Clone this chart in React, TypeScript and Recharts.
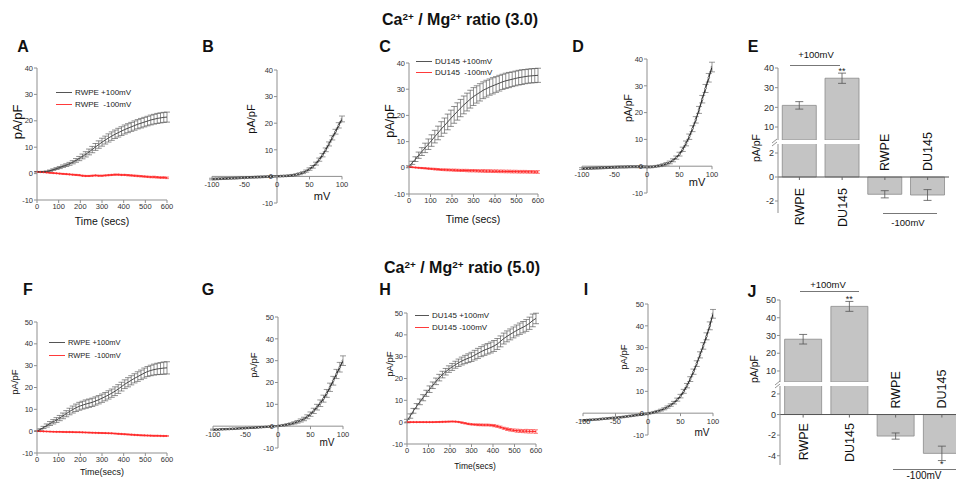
import React from "react";
import {
  Bar,
  BarChart,
  ErrorBar,
  Line,
  LineChart,
  ReferenceDot,
  ReferenceLine,
  XAxis,
  YAxis,
} from "recharts";

const FONT = "Arial, 'Liberation Sans', Helvetica, sans-serif";
const AXIS = "#8f8f8f";
const TICK = "#333";
const RED = "#ff2b2b";
const BAR = "#c4c4c4";
const BAR_EDGE = "#8a8a8a";

// time courses, sampled every 15 s
const times = [
  0, 15, 30, 45, 60, 75, 90, 105, 120, 135, 150, 165, 180, 195, 210, 225, 240, 255, 270, 285, 300,
  315, 330, 345, 360, 375, 390, 405, 420, 435, 450, 465, 480, 495, 510, 525, 540, 555, 570, 585, 600,
];
const timeTicks = [0, 100, 200, 300, 400, 500, 600];

// A: RWPE, ratio 3.0
const aUp = [
  0.7, 0.7, 0.7, 0.8, 1.1, 1.5, 1.9, 2.3, 2.8, 3.2, 3.7, 4.3, 5.0, 5.7, 6.5, 7.3, 8.2, 9.1, 10.1,
  11.0, 11.9, 12.7, 13.5, 14.2, 14.9, 15.5, 16.1, 16.7, 17.2, 17.7, 18.2, 18.7, 19.1, 19.5, 19.9,
  20.3, 20.6, 20.9, 21.1, 21.3, 21.4,
];
const aUpErr = [
  0.1, 0.1, 0.15, 0.2, 0.25, 0.3, 0.35, 0.4, 0.45, 0.5, 0.55, 0.6, 0.7, 0.8, 0.9, 1.0, 1.1, 1.2,
  1.3, 1.4, 1.5, 1.5, 1.55, 1.6, 1.6, 1.65, 1.65, 1.7, 1.7, 1.7, 1.75, 1.75, 1.8, 1.8, 1.8, 1.85,
  1.85, 1.9, 1.9, 1.9, 1.9,
];
const aDown = [
  0.7, 0.6, 0.5, 0.4, 0.3, 0.2, 0.1, 0.0, -0.1, -0.2, -0.3, -0.4, -0.5, -0.6, -0.8, -0.9, -0.9,
  -0.8, -0.7, -0.8, -0.8, -0.7, -0.6, -0.5, -0.4, -0.4, -0.5, -0.5, -0.6, -0.7, -0.8, -0.9, -1.0,
  -1.1, -1.2, -1.3, -1.3, -1.4, -1.5, -1.5, -1.6,
];
const aDownErr = [
  0.1, 0.1, 0.1, 0.1, 0.1, 0.1, 0.1, 0.15, 0.15, 0.15, 0.15, 0.15, 0.2, 0.2, 0.2, 0.2, 0.2, 0.2,
  0.2, 0.2, 0.2, 0.2, 0.2, 0.2, 0.2, 0.2, 0.2, 0.2, 0.25, 0.25, 0.25, 0.25, 0.25, 0.25, 0.25, 0.25,
  0.3, 0.3, 0.3, 0.3, 0.3,
];

// C: DU145, ratio 3.0
const cUp = [
  0.5, 1.9, 3.3, 4.8, 6.2, 7.6, 9.0, 10.4, 11.9, 13.3, 14.8, 16.1, 17.5, 18.9, 20.2, 21.5, 22.8,
  24.0, 25.1, 26.2, 27.2, 28.0, 28.8, 29.6, 30.2, 30.8, 31.3, 31.8, 32.3, 32.8, 33.2, 33.5, 33.8,
  34.1, 34.4, 34.6, 34.8, 35.0, 35.1, 35.2, 35.3,
];
const cUpErr = [
  0.3, 0.6, 0.9, 1.2, 1.5, 1.8, 2.0, 2.2, 2.4, 2.6, 2.8, 2.9, 3.0, 3.1, 3.2, 3.3, 3.3, 3.4, 3.4,
  3.4, 3.4, 3.3, 3.3, 3.2, 3.2, 3.1, 3.1, 3.0, 3.0, 2.9, 2.9, 2.9, 2.8, 2.8, 2.8, 2.8, 2.7, 2.7,
  2.7, 2.7, 2.7,
];
const cDown = [
  0.3, 0.2, 0.1, 0.0, -0.1, -0.2, -0.3, -0.4, -0.5, -0.6, -0.7, -0.75, -0.8, -0.85, -0.9, -0.95,
  -1.0, -1.0, -1.05, -1.1, -1.1, -1.15, -1.2, -1.2, -1.25, -1.25, -1.3, -1.3, -1.35, -1.35, -1.4,
  -1.4, -1.45, -1.45, -1.5, -1.5, -1.5, -1.55, -1.55, -1.6, -1.6,
];
const cDownErr = [
  0.1, 0.1, 0.15, 0.15, 0.2, 0.2, 0.25, 0.25, 0.3, 0.3, 0.3, 0.35, 0.35, 0.35, 0.4, 0.4, 0.4, 0.4,
  0.45, 0.45, 0.45, 0.45, 0.45, 0.5, 0.5, 0.5, 0.5, 0.5, 0.5, 0.5, 0.5, 0.5, 0.5, 0.5, 0.5, 0.5,
  0.5, 0.5, 0.5, 0.5, 0.5,
];

// F: RWPE, ratio 5.0
const fUp = [
  0.0, 0.8, 1.7, 2.6, 3.5, 4.3, 5.1, 6.0, 7.0, 8.0, 9.0, 9.9, 10.7, 11.4, 11.9, 12.4, 12.8, 13.2,
  13.8, 14.4, 15.1, 15.8, 16.6, 17.4, 18.3, 19.3, 20.4, 21.5, 22.4, 23.3, 24.2, 25.0, 25.8, 26.6,
  27.3, 27.8, 28.2, 28.5, 28.7, 28.9, 29.0,
];
const fUpErr = [
  0.1, 0.3, 0.5, 0.7, 0.9, 1.0, 1.1, 1.2, 1.3, 1.4, 1.5, 1.6, 1.7, 1.8, 1.8, 1.9, 1.9, 1.9, 1.9,
  1.9, 1.9, 1.9, 1.9, 1.9, 2.0, 2.0, 2.0, 2.0, 2.1, 2.1, 2.1, 2.2, 2.2, 2.3, 2.3, 2.4, 2.5, 2.6,
  2.7, 2.8, 2.8,
];
const fDown = [
  0.0, -0.05, -0.1, -0.15, -0.2, -0.25, -0.3, -0.3, -0.35, -0.4, -0.4, -0.45, -0.5, -0.5, -0.55,
  -0.6, -0.65, -0.7, -0.75, -0.8, -0.85, -0.9, -0.95, -1.0, -1.1, -1.2, -1.3, -1.4, -1.5, -1.6,
  -1.7, -1.8, -1.9, -1.95, -2.0, -2.05, -2.1, -2.1, -2.15, -2.2, -2.2,
];
const fDownErr = [
  0.1, 0.1, 0.1, 0.1, 0.1, 0.1, 0.1, 0.1, 0.1, 0.1, 0.15, 0.15, 0.15, 0.15, 0.15, 0.15, 0.15, 0.15,
  0.15, 0.15, 0.15, 0.15, 0.15, 0.15, 0.15, 0.2, 0.2, 0.2, 0.2, 0.2, 0.2, 0.2, 0.2, 0.2, 0.2, 0.2,
  0.2, 0.2, 0.2, 0.2, 0.2,
];

// H: DU145, ratio 5.0
const hUp = [
  0.5, 2.8, 5.2, 7.3, 9.3, 11.2, 13.2, 15.1, 16.9, 18.7, 20.4, 21.8, 23.1, 24.3, 25.3, 26.3, 27.2,
  28.0, 28.7, 29.3, 29.9, 30.7, 31.5, 32.3, 33.0, 33.6, 34.2, 34.9, 35.8, 37.0, 38.3, 39.3, 40.2,
  41.1, 42.0, 42.8, 43.5, 44.3, 45.3, 46.6, 47.5,
];
const hUpErr = [
  0.8, 1.0, 1.1, 1.2, 1.3, 1.4, 1.4, 1.5, 1.5, 1.5, 1.5, 1.5, 1.5, 1.5, 1.6, 1.6, 1.7, 1.8, 1.9,
  2.0, 2.1, 2.2, 2.3, 2.3, 2.4, 2.4, 2.5, 2.5, 2.5, 2.5, 2.5, 2.5, 2.5, 2.5, 2.5, 2.6, 2.6, 2.7,
  2.8, 2.9, 2.4,
];
const hDown = [
  0, 0, 0, 0, 0, 0, 0, 0, 0, 0.05, 0.1, 0.15, 0.2, 0.25, 0.3, 0.25, 0.1, -0.2, -0.5, -0.8, -1.0,
  -1.1, -1.2, -1.25, -1.3, -1.3, -1.4, -1.6, -1.9, -2.3, -2.8, -3.2, -3.5, -3.7, -3.9, -4.0, -4.1,
  -4.1, -4.2, -4.2, -4.3,
];
const hDownErr = [
  0.1, 0.1, 0.1, 0.1, 0.1, 0.1, 0.1, 0.1, 0.1, 0.1, 0.2, 0.2, 0.2, 0.2, 0.2, 0.2, 0.2, 0.3, 0.3,
  0.3, 0.3, 0.3, 0.4, 0.4, 0.4, 0.4, 0.4, 0.5, 0.5, 0.5, 0.5, 0.6, 0.6, 0.6, 0.7, 0.7, 0.7, 0.8,
  0.8, 0.8, 0.8,
];

// I-V curves, every 5 mV
const volts = [
  -100, -95, -90, -85, -80, -75, -70, -65, -60, -55, -50, -45, -40, -35, -30, -25, -20, -15, -10,
  -5, 0, 5, 10, 15, 20, 25, 30, 35, 40, 45, 50, 55, 60, 65, 70, 75, 80, 85, 90, 95, 100,
];
const voltTicks = [-100, -50, 0, 50, 100];

const bIV = [
  -1.0, -0.95, -0.9, -0.85, -0.8, -0.75, -0.7, -0.65, -0.6, -0.5, -0.45, -0.4, -0.35, -0.3, -0.25,
  -0.2, -0.15, -0.1, -0.05, 0.0, 0.05, 0.1, 0.15, 0.2, 0.3, 0.45, 0.7, 1.0, 1.4, 2.0, 2.75, 3.6,
  4.8, 6.3, 8.0, 10.0, 12.2, 14.5, 16.8, 19.2, 21.6,
];
const bErr = [
  0.3, 0.3, 0.3, 0.3, 0.3, 0.3, 0.3, 0.3, 0.3, 0.3, 0.3, 0.3, 0.3, 0.3, 0.3, 0.3, 0.3, 0.3, 0.3,
  0.3, 0.25, 0.25, 0.25, 0.25, 0.3, 0.3, 0.3, 0.35, 0.35, 0.4, 0.45, 0.5, 0.55, 0.6, 0.65, 0.7,
  0.75, 0.8, 0.9, 1.0, 1.1,
];
const dIV = [
  -0.9, -0.85, -0.8, -0.75, -0.7, -0.65, -0.6, -0.55, -0.5, -0.45, -0.4, -0.35, -0.3, -0.3, -0.25,
  -0.2, -0.2, -0.2, -0.2, -0.25, -0.3, -0.3, -0.2, 0.0, 0.2, 0.5, 0.9, 1.4, 2.2, 3.2, 4.5, 6.3, 8.5,
  11.0, 14.0, 17.3, 21.0, 25.0, 29.0, 33.0, 37.0,
];
const dErr = [
  0.35, 0.35, 0.35, 0.35, 0.35, 0.35, 0.35, 0.35, 0.35, 0.35, 0.35, 0.35, 0.35, 0.35, 0.35, 0.35,
  0.35, 0.35, 0.35, 0.35, 0.3, 0.3, 0.3, 0.3, 0.35, 0.4, 0.45, 0.5, 0.55, 0.6, 0.7, 0.8, 0.9, 1.0,
  1.1, 1.2, 1.3, 1.4, 1.5, 1.6, 1.8,
];
const gIV = [
  -1.6, -1.55, -1.5, -1.4, -1.35, -1.3, -1.2, -1.15, -1.05, -1.0, -0.9, -0.8, -0.75, -0.65, -0.55,
  -0.45, -0.35, -0.25, -0.15, -0.05, 0.1, 0.3, 0.5, 0.8, 1.1, 1.5, 2.0, 2.6, 3.3, 4.3, 5.5, 7.0,
  8.7, 10.5, 12.6, 15.0, 17.8, 20.8, 23.9, 27.0, 30.0,
];
const gErr = [
  0.25, 0.25, 0.25, 0.25, 0.25, 0.25, 0.25, 0.25, 0.25, 0.25, 0.25, 0.25, 0.25, 0.25, 0.25, 0.25,
  0.25, 0.25, 0.25, 0.25, 0.2, 0.25, 0.3, 0.35, 0.4, 0.5, 0.6, 0.7, 0.8, 0.9, 1.0, 1.2, 1.3, 1.5,
  1.6, 1.8, 1.9, 2.0, 2.1, 2.2, 2.2,
];
const iIV = [
  -3.3, -3.2, -3.1, -3.0, -2.9, -2.8, -2.6, -2.5, -2.35, -2.2, -2.1, -1.95, -1.8, -1.6, -1.4, -1.2,
  -1.0, -0.8, -0.6, -0.4, -0.2, 0.1, 0.5, 0.9, 1.4, 2.0, 2.8, 3.7, 4.8, 6.2, 7.8, 10.0, 12.6, 15.6,
  19.0, 22.7, 26.7, 30.8, 35.2, 40.0, 45.5,
];
const iErr = [
  0.3, 0.3, 0.3, 0.3, 0.3, 0.3, 0.3, 0.3, 0.3, 0.3, 0.3, 0.3, 0.3, 0.3, 0.3, 0.3, 0.3, 0.3, 0.3,
  0.3, 0.3, 0.3, 0.3, 0.35, 0.4, 0.45, 0.5, 0.55, 0.6, 0.7, 0.8, 0.9, 1.0, 1.1, 1.2, 1.3, 1.4, 1.5,
  1.6, 1.8, 2.0,
];

// bar summaries at +100 / -100 mV
const barKeys = ["RWPE+", "DU145+", "RWPE-", "DU145-"];
const barCats = ["RWPE", "DU145", "RWPE", "DU145"];
const eVals = [21.0, 34.8, -1.44, -1.5];
const eErr = [1.9, 2.6, 0.3, 0.45];
const eSig = ["", "**", "", ""];
const jVals = [27.9, 46.4, -2.09, -3.77];
const jErr = [2.7, 2.8, 0.3, 0.7];
const jSig = ["", "**", "", "*"];

type Rect = { x0: number; y0: number; x1: number; y1: number };
const PL = 40;
const PR = 14;
const PT = 12;
const PB = 28;

function frame(r: Rect, hiddenX = false, pt = PT) {
  return {
    style: { position: "absolute" as const, left: r.x0 - PL, top: r.y0 - pt },
    width: r.x1 - r.x0 + PL + PR,
    height: r.y1 - r.y0 + pt + PB,
    margin: { top: pt, right: PR, left: 0, bottom: hiddenX ? PB : 0 },
  };
}

const tickStyle = { fontSize: 7.5, fill: TICK, fontFamily: FONT };

function Txt({ x, y, size, children, bold, rot, color = "#111", anchor = "middle" }: any) {
  const tx = anchor === "middle" ? "-50%" : anchor === "start" ? "0%" : "-100%";
  return (
    <div
      style={{
        position: "absolute",
        left: x,
        top: y,
        transform: `translate(${tx},-50%)${rot ? ` rotate(${rot}deg)` : ""}`,
        whiteSpace: "pre",
        fontSize: size,
        lineHeight: 1,
        fontWeight: bold ? 700 : 400,
        fontFamily: FONT,
        color,
      }}
    >
      {children}
    </div>
  );
}

function Sup({ children }: any) {
  return <span style={{ fontSize: "0.62em", verticalAlign: "0.55em", lineHeight: 0 }}>{children}</span>;
}

function Legend2({ x, textX, y1, y2, size, labels }: any) {
  const rows = [
    { y: y1, color: "#555", label: labels[0] },
    { y: y2, color: "#ff3a3a", label: labels[1] },
  ];
  return (
    <>
      {rows.map((row) => (
        <React.Fragment key={row.label}>
          <div
            style={{
              position: "absolute",
              left: x,
              top: row.y,
              width: textX - x - 3,
              height: 1,
              background: row.color,
            }}
          />
          <Txt x={textX} y={row.y + 0.5} size={size} anchor="start" color="#222">
            {row.label}
          </Txt>
        </React.Fragment>
      ))}
    </>
  );
}

function TimePanel({ r, yMax, up, upErr, down, downErr }: any) {
  const f = frame(r);
  const data = times.map((t, i) => ({ t, up: up[i], upErr: upErr[i], down: down[i], downErr: downErr[i] }));
  const yTicks = yMax === 50 ? [-10, 0, 10, 20, 30, 40, 50] : [-10, 0, 10, 20, 30, 40];
  return (
    <div style={f.style}>
      <LineChart width={f.width} height={f.height} data={data} margin={f.margin}>
        <XAxis
          dataKey="t"
          type="number"
          domain={[0, 600]}
          ticks={timeTicks}
          interval={0}
          height={PB}
          stroke={AXIS}
          tickSize={3}
          tickMargin={1}
          tick={tickStyle}
          allowDataOverflow
        />
        <YAxis
          type="number"
          domain={[-10, yMax]}
          ticks={yTicks}
          interval={0}
          width={PL}
          stroke={AXIS}
          tickSize={3}
          tickMargin={1}
          tick={tickStyle}
          allowDataOverflow
        />
        <Line
          type="linear"
          dataKey="down"
          stroke={RED}
          strokeWidth={1}
          dot={{ r: 0.8, fill: RED, stroke: RED, strokeWidth: 0.4 }}
          isAnimationActive={false}
        >
          <ErrorBar dataKey="downErr" width={2} stroke={RED} strokeWidth={0.6} />
        </Line>
        <Line type="linear" dataKey="up" stroke="#3a3a3a" strokeWidth={0.9} dot={false} isAnimationActive={false}>
          <ErrorBar dataKey="upErr" width={3} stroke="#444" strokeWidth={0.6} />
        </Line>
      </LineChart>
    </div>
  );
}

function IVPanel({ r, yMax, vals, errs }: any) {
  const f = frame(r);
  const data = volts.map((v, i) => ({ v, cur: vals[i], err: errs[i] }));
  const h = r.y1 - r.y0;
  const w = r.x1 - r.x0;
  const zeroDy = (h * 10) / (yMax + 10);
  const zeroDx = w / 2;
  const yTicks = yMax === 50 ? [-10, 0, 10, 20, 30, 40, 50] : [-10, 0, 10, 20, 30, 40];

  const XTick = (p: any) => {
    const yy = p.y - zeroDy;
    return (
      <g>
        <line x1={p.x} x2={p.x} y1={yy} y2={yy + 3} stroke={AXIS} />
        <text x={p.x} y={yy + 10.5} textAnchor="middle" fontSize={7.5} fill={TICK} fontFamily={FONT}>
          {p.payload.value}
        </text>
      </g>
    );
  };
  const YTick = (p: any) => {
    const xx = p.x + zeroDx;
    return (
      <g>
        <line x1={xx - 3} x2={xx} y1={p.y} y2={p.y} stroke={AXIS} />
        <text x={xx - 4} y={p.y + 2.7} textAnchor="end" fontSize={7.5} fill={TICK} fontFamily={FONT}>
          {p.payload.value}
        </text>
      </g>
    );
  };

  return (
    <div style={f.style}>
      <LineChart width={f.width} height={f.height} data={data} margin={f.margin}>
        <XAxis
          dataKey="v"
          type="number"
          domain={[-100, 100]}
          ticks={voltTicks}
          interval={0}
          height={PB}
          axisLine={false}
          tickLine={false}
          tickSize={0}
          tickMargin={0}
          tick={XTick}
          allowDataOverflow
        />
        <YAxis
          type="number"
          domain={[-10, yMax]}
          ticks={yTicks}
          interval={0}
          width={PL}
          axisLine={false}
          tickLine={false}
          tickSize={0}
          tickMargin={0}
          tick={YTick}
          allowDataOverflow
        />
        <ReferenceLine y={0} stroke={AXIS} />
        <ReferenceLine x={0} stroke={AXIS} />
        <Line
          type="linear"
          dataKey="cur"
          stroke="#2b2b2b"
          strokeWidth={1.2}
          dot={{ r: 0.9, fill: "#fff", stroke: "#333", strokeWidth: 0.6 }}
          isAnimationActive={false}
        >
          <ErrorBar dataKey="err" width={3} stroke="#555" strokeWidth={0.6} />
        </Line>
      </LineChart>
    </div>
  );
}

function BarPanel({ x0, x1, upper, lower, vals, errs, sig, belowGap }: any) {
  const data = barKeys.map((k, i) => ({
    k,
    v: vals[i],
    vUp: vals[i] > 0 ? vals[i] : null,
    eUp: vals[i] > 0 ? errs[i] : null,
    eLow: vals[i] < 0 ? errs[i] : null,
  }));
  const fu = frame({ x0, x1, y0: upper.y0, y1: upper.y1 }, true);
  const fl = frame({ x0, x1, y0: lower.y0, y1: lower.y1 }, false, 44);
  const zeroDy = ((lower.y1 - lower.y0) * (0 - lower.min)) / (lower.max - lower.min);
  const barTick = { fontSize: 9, fill: TICK, fontFamily: FONT };

  const CatTick = (p: any) => {
    const zy = p.y - zeroDy;
    const neg = vals[p.index] < 0;
    return (
      <g>
        <line x1={p.x} x2={p.x} y1={zy} y2={zy + 3} stroke="#666" />
        <text
          transform={`translate(${p.x + 4.5},${neg ? zy - 6 : zy + belowGap}) rotate(-90)`}
          textAnchor={neg ? "start" : "end"}
          fontSize={12.5}
          fill="#111"
          fontFamily={FONT}
        >
          {barCats[p.index]}
        </text>
      </g>
    );
  };

  return (
    <>
      <div style={fu.style}>
        <BarChart width={fu.width} height={fu.height} data={data} margin={fu.margin} barCategoryGap="10%">
          <XAxis dataKey="k" hide />
          <YAxis
            type="number"
            domain={[upper.min, upper.max]}
            ticks={upper.ticks}
            interval={0}
            width={PL}
            stroke={AXIS}
            tickSize={3}
            tickMargin={1}
            tick={barTick}
            allowDataOverflow
          />
          <Bar dataKey="vUp" fill={BAR} stroke={BAR_EDGE} strokeWidth={0.8} isAnimationActive={false}>
            <ErrorBar dataKey="eUp" width={4} stroke="#555" strokeWidth={0.8} />
          </Bar>
          {vals.map((v: number, i: number) =>
            sig[i] && v > 0 ? (
              <ReferenceDot
                key={i}
                x={barKeys[i]}
                y={v + errs[i]}
                r={0}
                fillOpacity={0}
                stroke="none"
                ifOverflow="visible"
                label={{ value: sig[i], position: "top", offset: -1, fontSize: 9, fill: "#222" }}
              />
            ) : null
          )}
        </BarChart>
      </div>
      <div style={fl.style}>
        <BarChart width={fl.width} height={fl.height} data={data} margin={fl.margin} barCategoryGap="10%">
          <XAxis
            dataKey="k"
            height={PB}
            axisLine={false}
            tickLine={false}
            tickSize={0}
            tickMargin={0}
            interval={0}
            tick={CatTick}
          />
          <YAxis
            type="number"
            domain={[lower.min, lower.max]}
            ticks={lower.ticks}
            interval={0}
            width={PL}
            stroke={AXIS}
            tickSize={3}
            tickMargin={1}
            tick={barTick}
            allowDataOverflow
          />
          <Bar dataKey="v" fill={BAR} stroke={BAR_EDGE} strokeWidth={0.8} isAnimationActive={false}>
            <ErrorBar dataKey="eLow" width={4} stroke="#555" strokeWidth={0.8} />
          </Bar>
          <ReferenceLine y={0} stroke="#555" />
          {vals.map((v: number, i: number) =>
            sig[i] && v < 0 ? (
              <ReferenceDot
                key={i}
                x={barKeys[i]}
                y={v - errs[i]}
                r={0}
                fillOpacity={0}
                stroke="none"
                ifOverflow="visible"
                label={{ value: sig[i], position: "bottom", offset: 0, fontSize: 9, fill: "#222" }}
              />
            ) : null
          )}
        </BarChart>
      </div>
    </>
  );
}

function BreakMark({ x, y }: any) {
  return (
    <svg style={{ position: "absolute", left: x - 6, top: y - 5 }} width={8} height={10}>
      <line x1={1} y1={6} x2={6} y2={2} stroke="#777" strokeWidth={0.8} />
      <line x1={1} y1={9} x2={6} y2={5} stroke="#777" strokeWidth={0.8} />
    </svg>
  );
}

function Bracket({ x0, x1, y }: any) {
  return <div style={{ position: "absolute", left: x0, top: y, width: x1 - x0, height: 1, background: "#777" }} />;
}

export default function App() {
  return (
    <div
      style={{
        position: "absolute",
        left: 0,
        top: 0,
        width: 956,
        height: 483,
        overflow: "hidden",
        background: "#fff",
        fontFamily: FONT,
      }}
    >
      <Txt x={460} y={20} size={16} bold>
        Ca<Sup>2+</Sup> / Mg<Sup>2+</Sup> ratio (3.0)
      </Txt>
      <Txt x={462} y={268} size={16} bold>
        Ca<Sup>2+</Sup> / Mg<Sup>2+</Sup> ratio (5.0)
      </Txt>

      {[
        ["A", 23, 47],
        ["B", 208, 47],
        ["C", 385, 47],
        ["D", 578, 47],
        ["E", 753, 47],
        ["F", 28, 290],
        ["G", 208, 290],
        ["H", 385, 290],
        ["I", 586, 290],
        ["J", 752, 292],
      ].map(([l, x, y]) => (
        <Txt key={l as string} x={x} y={y} size={16} bold>
          {l}
        </Txt>
      ))}

      {/* A */}
      <TimePanel r={{ x0: 37, y0: 68, x1: 167, y1: 200 }} yMax={40} up={aUp} upErr={aUpErr} down={aDown} downErr={aDownErr} />
      <Legend2 x={56} textX={75} y1={92} y2={104} size={8} labels={["RWPE +100mV", "RWPE  -100mV"]} />
      <Txt x={17} y={122} size={13} rot={-90}>pA/pF</Txt>
      <Txt x={102} y={221} size={10.5}>Time (secs)</Txt>

      {/* B */}
      <IVPanel r={{ x0: 212, y0: 70, x1: 342, y1: 203 }} yMax={40} vals={bIV} errs={bErr} />
      <Txt x={251} y={119} size={11} rot={-90}>pA/pF</Txt>
      <Txt x={322} y={196} size={11}>mV</Txt>

      {/* C */}
      <TimePanel r={{ x0: 409, y0: 63, x1: 538, y1: 194 }} yMax={40} up={cUp} upErr={cUpErr} down={cDown} downErr={cDownErr} />
      <Legend2 x={416} textX={435} y1={61} y2={72} size={8} labels={["DU145 +100mV", "DU145  -100mV"]} />
      <Txt x={390} y={121} size={12.5} rot={-90}>pA/pF</Txt>
      <Txt x={473} y={219} size={10.5}>Time (secs)</Txt>

      {/* D */}
      <IVPanel r={{ x0: 582, y0: 59, x1: 712, y1: 193 }} yMax={40} vals={dIV} errs={dErr} />
      <Txt x={628} y={108} size={10.5} rot={-90}>pA/pF</Txt>
      <Txt x={697} y={182} size={11}>mV</Txt>

      {/* E */}
      <BarPanel
        x0={777.5}
        x1={948.5}
        upper={{ y0: 68, y1: 140, min: 3.4, max: 40, ticks: [10, 20, 30, 40] }}
        lower={{ y0: 144, y1: 213, min: -3, max: 2.75, ticks: [-2, 0, 2] }}
        vals={eVals}
        errs={eErr}
        sig={eSig}
        belowGap={11}
      />
      <BreakMark x={777} y={142} />
      <Txt x={756} y={148} size={10.5} rot={-90}>pA/pF</Txt>
      <Bracket x0={790} x1={840} y={65} />
      <Txt x={816} y={55} size={9.5}>+100mV</Txt>
      <Bracket x0={883} x1={937} y={213} />
      <Txt x={908} y={223} size={9.5}>-100mV</Txt>

      {/* F */}
      <TimePanel r={{ x0: 37, y0: 322, x1: 167, y1: 453 }} yMax={50} up={fUp} upErr={fUpErr} down={fDown} downErr={fDownErr} />
      <Legend2 x={49} textX={68} y1={342} y2={355} size={7.5} labels={["RWPE +100mV", "RWPE  -100mV"]} />
      <Txt x={15} y={382} size={9.5} rot={-90}>pA/pF</Txt>
      <Txt x={102} y={472} size={9}>Time(secs)</Txt>

      {/* G */}
      <IVPanel r={{ x0: 213, y0: 317, x1: 343, y1: 448 }} yMax={50} vals={gIV} errs={gErr} />
      <Txt x={254} y={365} size={9.5} rot={-90}>pA/pF</Txt>
      <Txt x={327} y={443} size={10}>mV</Txt>

      {/* H */}
      <TimePanel r={{ x0: 407, y0: 313, x1: 536, y1: 444 }} yMax={50} up={hUp} upErr={hUpErr} down={hDown} downErr={hDownErr} />
      <Legend2 x={415} textX={432} y1={315} y2={327} size={8} labels={["DU145 +100mV", "DU145 -100mV"]} />
      <Txt x={390} y={364} size={9.5} rot={-90}>pA/pF</Txt>
      <Txt x={475} y={466} size={8.5}>Time(secs)</Txt>

      {/* I */}
      <IVPanel r={{ x0: 583, y0: 304, x1: 713, y1: 435 }} yMax={50} vals={iIV} errs={iErr} />
      <Txt x={624} y={357} size={9.5} rot={-90}>pA/pF</Txt>
      <Txt x={702} y={433} size={10}>mV</Txt>

      {/* J */}
      <BarPanel
        x0={780}
        x1={965}
        upper={{ y0: 300, y1: 382, min: 3.8, max: 50, ticks: [10, 20, 30, 40, 50] }}
        lower={{ y0: 386, y1: 465, min: -4.9, max: 2.77, ticks: [-4, -2, 0, 2] }}
        vals={jVals}
        errs={jErr}
        sig={jSig}
        belowGap={8.5}
      />
      <BreakMark x={780} y={384} />
      <Txt x={754} y={369} size={10.5} rot={-90}>pA/pF</Txt>
      <Bracket x0={800} x1={859} y={291} />
      <Txt x={828} y={285} size={9.5}>+100mV</Txt>
      <Bracket x0={893} x1={956} y={469} />
      <Txt x={924} y={476} size={10}>-100mV</Txt>
    </div>
  );
}
